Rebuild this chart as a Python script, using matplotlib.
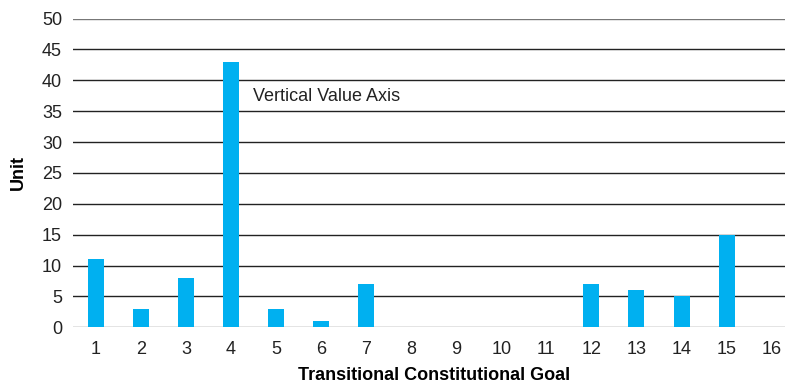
import matplotlib as mpl
mpl.rcParams['font.family'] = ['Liberation Sans', 'DejaVu Sans']

import numpy as np
import matplotlib.pyplot as plt

goals = np.arange(1, 17)
units = [11, 3, 8, 43, 3, 1, 7, 0, 0, 0, 0, 7, 6, 5, 15, 0]
yticks = np.arange(0, 51, 5)

fig = plt.figure(figsize=(7.85, 3.84), dpi=100)
ax = fig.add_axes([73.2/785, 56.7/384, 721/785, 308.8/384])

ax.bar(goals, units, width=0.355, color='#00b0f0', zorder=3)

ax.set_xlim(0.5, 16.5)
ax.set_ylim(0, 50)
ax.set_xticks(goals)
ax.set_yticks(yticks)
ax.tick_params(axis='both', length=0, labelsize=13, colors='#222222')
ax.tick_params(axis='x', pad=10)
ax.tick_params(axis='y', pad=8)

for y in yticks:
    c = '#777777' if y in (0, 50) else '#222222'
    ax.axhline(y, color=c, lw=1.0, zorder=1)

for s in ax.spines.values():
    s.set_visible(False)

ax.set_xlabel('Transitional Constitutional Goal', fontsize=13, fontweight='bold', labelpad=6.5)
ax.set_ylabel('Unit', fontsize=13, fontweight='bold', labelpad=11)

ax.text(4.49, 37.3, 'Vertical Value Axis', fontsize=13, color='#222222', va='center', ha='left')

plt.savefig('out.png', dpi=100)
plt.close()
